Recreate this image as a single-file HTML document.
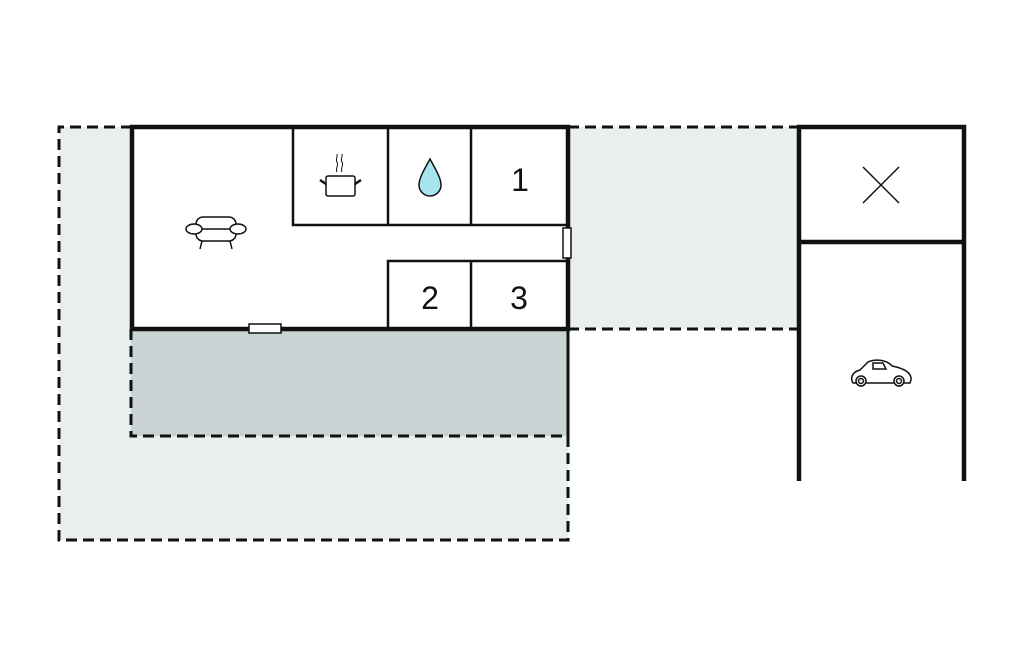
<!DOCTYPE html>
<html><head><meta charset="utf-8"><style>
html,body{margin:0;padding:0;background:#fff;width:1024px;height:652px;overflow:hidden}
</style></head><body>
<svg width="1024" height="652" viewBox="0 0 1024 652" xmlns="http://www.w3.org/2000/svg">
<rect x="59" y="127" width="509" height="413" fill="#e9eeee"/>
<rect x="568" y="127" width="231" height="202" fill="#e9eeee"/>
<rect x="131" y="329" width="437" height="107" fill="#c9d3d3"/>
<g fill="none" stroke="#111" stroke-width="3" stroke-dasharray="11,6">
<path d="M132 127 H59 V540 H568 V329"/>
<path d="M568 127 H799"/>
<path d="M568 329 H799"/>
<path d="M131 329 V436 H568 V329"/>
</g>
<rect x="132" y="127" width="436" height="202" fill="#fff"/>
<g stroke="#111" stroke-width="2.5" fill="none">
<path d="M293 127 V225 H568"/>
<path d="M388 127 V225"/>
<path d="M471 127 V225"/>
<path d="M568 261 H388 V329"/>
<path d="M471 261 V329"/>
</g>
<rect x="132" y="127" width="436" height="202" fill="none" stroke="#111" stroke-width="4.5"/>
<rect x="563" y="228" width="8" height="30" fill="#fff" stroke="#111" stroke-width="1.5"/>
<rect x="249" y="324" width="32" height="9" fill="#fff" stroke="#111" stroke-width="1.5"/>
<g font-family="Liberation Sans, sans-serif" font-size="32" fill="#111" text-anchor="middle">
<text x="520" y="191">1</text>
<text x="430" y="309">2</text>
<text x="519" y="309">3</text>
</g>
<path d="M430 159 C424 170 419 178 419 185 A11 11 0 0 0 441 185 C441 178 436 170 430 159 Z" fill="#a8e4ee" stroke="#111" stroke-width="1.5"/>
<g stroke="#111" stroke-width="1.5" fill="none">
<rect x="326" y="176" width="29" height="20" rx="2" fill="#fff"/>
<path d="M320 180 L326 184 M361 180 L355 184" stroke-width="2.5"/>
<path d="M337 172 c-2 -4 2 -6 0 -10 c-2 -3 1 -5 0 -8 M342 172 c-2 -4 2 -6 0 -10 c-2 -3 1 -5 0 -8" stroke-width="1"/>
</g>
<g stroke="#111" stroke-width="1.5" fill="#fff">
<rect x="196" y="217" width="40" height="24" rx="7"/>
<ellipse cx="194" cy="229" rx="8" ry="5"/>
<ellipse cx="238" cy="229" rx="8" ry="5"/>
<path d="M202 229 H230" fill="none"/>
<path d="M202 241 L200 249 M230 241 L232 249" fill="none"/>
</g>
<g stroke="#111" stroke-width="4.5" fill="none">
<path d="M799 481 V127 H964 V481"/>
<path d="M799 242 H964"/>
</g>
<g stroke="#111" stroke-width="1.5">
<path d="M863 167 L899 203 M899 167 L863 203"/>
</g>
<g stroke="#111" stroke-width="1.5" fill="none">
<path d="M853 383 C850 378 852 372 860 370 L868 362 C874 359 886 359 892 366 C902 368 912 372 911 380 L910 383 Z" fill="#fff"/>
<path d="M873 363 H883 L886 369 H873 Z"/>
<circle cx="861" cy="381" r="5" fill="#fff"/>
<circle cx="899" cy="381" r="5" fill="#fff"/>
<circle cx="861" cy="381" r="2.5"/>
<circle cx="899" cy="381" r="2.5"/>
</g>
</svg>
</body></html>
